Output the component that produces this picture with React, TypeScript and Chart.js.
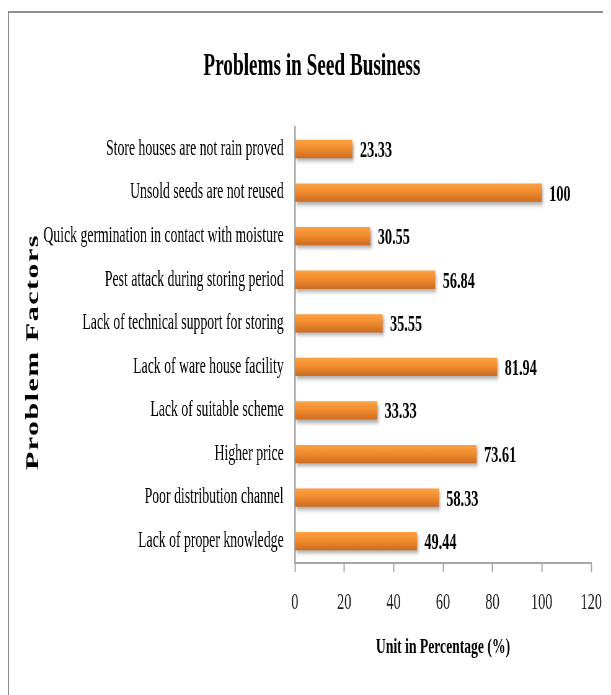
import React, { useEffect, useRef } from 'react';
import { Chart, registerables } from 'chart.js';

Chart.register(...registerables);

// ---------- data ----------
const CATEGORIES: string[] = [
  'Store houses are not rain proved',
  'Unsold seeds are not reused',
  'Quick germination in contact with moisture',
  'Pest attack during storing period',
  'Lack of technical support for storing',
  'Lack of ware house facility',
  'Lack of suitable scheme',
  'Higher price',
  'Poor distribution channel',
  'Lack of proper knowledge',
];
const VALUES: number[] = [23.33, 100, 30.55, 56.84, 35.55, 81.94, 33.33, 73.61, 58.33, 49.44];
const VALUE_LABELS: string[] = ['23.33', '100', '30.55', '56.84', '35.55', '81.94', '33.33', '73.61', '58.33', '49.44'];
const X_TICKS: number[] = [0, 20, 40, 60, 80, 100, 120];
const TITLE = 'Problems in Seed Business';
const X_TITLE = 'Unit in Percentage (%)';
const Y_TITLE = 'Problem Factors';

// ---------- look ----------
const FAMILY = "'Liberation Serif', 'Times New Roman', serif";
const SQUEEZE = 0.62; // horizontal condensing of the whole picture
const VIEW_W = 620;
const VIEW_H = 682;
const CANVAS_W = Math.round(VIEW_W / SQUEEZE);
const BAR_PCT = 0.42;

const decorPlugin = {
  id: 'decor',
  beforeDraw(chart: any) {
    const c = chart.ctx;
    c.save();
    c.fillStyle = '#fff';
    c.fillRect(0, 0, chart.width, chart.height);
    c.restore();
  },
  beforeDatasetsDraw(chart: any) {
    const c = chart.ctx;
    const meta = chart.getDatasetMeta(0);
    meta.data.forEach((bar: any) => {
      const p = bar.getProps(['y', 'height'], true);
      if (!isFinite(p.y) || !isFinite(p.height)) return;
      const half = Math.abs(p.height) / 2;
      const g = c.createLinearGradient(0, p.y - half, 0, p.y + half);
      g.addColorStop(0, '#FBA244');
      g.addColorStop(0.45, '#F28C2E');
      g.addColorStop(1, '#CC6C22');
      bar.options = Object.assign({}, bar.options, { backgroundColor: g });
    });
    c.save();
    c.shadowColor = 'rgba(0,0,0,0.33)';
    c.shadowBlur = 4;
    c.shadowOffsetX = 2;
    c.shadowOffsetY = 3;
  },
  afterDatasetsDraw(chart: any) {
    const c = chart.ctx;
    c.restore();
    const meta = chart.getDatasetMeta(0);
    c.save();
    c.font = `bold 23px ${FAMILY}`;
    c.fillStyle = '#000';
    c.textAlign = 'left';
    c.textBaseline = 'middle';
    meta.data.forEach((bar: any, i: number) => {
      const p = bar.getProps(['x', 'y'], true);
      c.fillText(VALUE_LABELS[i], p.x + 12, p.y + 2);
    });
    c.restore();

    // rotated, letter-spaced y-axis title
    const ys = chart.scales.y;
    c.save();
    c.translate(ys.left + 1, (ys.top + ys.bottom) / 2 + 7);
    c.rotate(-Math.PI / 2);
    try { (c as any).letterSpacing = '1.5px'; } catch (e) { /* ignore */ }
    c.font = `bold 30px ${FAMILY}`;
    c.fillStyle = '#000';
    c.textAlign = 'center';
    c.textBaseline = 'middle';
    c.fillText(Y_TITLE, 0, 0);
    c.restore();
  },
};

export default function App() {
  const ref = useRef<HTMLCanvasElement | null>(null);

  useEffect(() => {
    const prevOverflow = document.body.style.overflow;
    document.body.style.overflow = 'hidden';
    document.documentElement.style.overflow = 'hidden';
    if (!ref.current) return;
    const chart = new Chart(ref.current, {
      type: 'bar',
      data: {
        labels: CATEGORIES,
        datasets: [
          {
            data: VALUES,
            borderWidth: 0,
            barPercentage: BAR_PCT,
            categoryPercentage: 1,
            backgroundColor: '#F08A2C',
          },
        ],
      },
      options: {
        responsive: false,
        animation: false,
        devicePixelRatio: 1,
        indexAxis: 'y',
        layout: { padding: { top: 0, right: 61, bottom: 34, left: 38 } },
        plugins: {
          legend: { display: false },
          tooltip: { enabled: false },
          title: {
            display: true,
            text: TITLE,
            color: '#000',
            font: { family: FAMILY, size: 31, weight: 'bold' },
            padding: { top: 35, bottom: 42 },
          },
        },
        scales: {
          x: {
            type: 'linear',
            min: X_TICKS[0],
            max: X_TICKS[X_TICKS.length - 1],
            afterBuildTicks: (s: any) => {
              s.ticks = X_TICKS.map((v) => ({ value: v }));
            },
            ticks: {
              color: '#1a1a1a',
              font: { family: FAMILY, size: 23 },
              padding: 17.5,
            },
            grid: {
              display: true,
              drawOnChartArea: false,
              drawTicks: true,
              tickLength: 9,
              tickColor: '#a6a6a6',
              tickWidth: 2,
            },
            border: { display: true, color: '#a6a6a6', width: 2 },
            title: {
              display: true,
              text: X_TITLE,
              color: '#000',
              font: { family: FAMILY, size: 22, weight: 'bold' },
              padding: { top: 0, bottom: 0 },
            },
          },
          y: {
            afterFit: (s: any) => {
              s.width = 423;
            },
            ticks: {
              color: '#000',
              font: { family: FAMILY, size: 22.2 },
              padding: 10,
              autoSkip: false,
            },
            grid: { display: false },
            border: { display: true, color: '#a6a6a6', width: 2.5 },
          },
        },
      },
      plugins: [decorPlugin],
    } as any);
    return () => {
      chart.destroy();
      document.body.style.overflow = prevOverflow;
    };
  }, []);

  return (
    <div
      style={{
        marginTop: 3,
        marginLeft: -1,
        width: 604,
        height: 684,
        boxSizing: 'border-box',
        borderTop: '2px solid #8e8e8e',
        borderLeft: '2px solid #8e8e8e',
        background: '#fff',
        overflow: 'hidden',
      }}
    >
      <canvas
        ref={ref}
        width={CANVAS_W}
        height={VIEW_H}
        style={{ width: VIEW_W + 'px', height: VIEW_H + 'px', display: 'block' }}
      />
    </div>
  );
}
